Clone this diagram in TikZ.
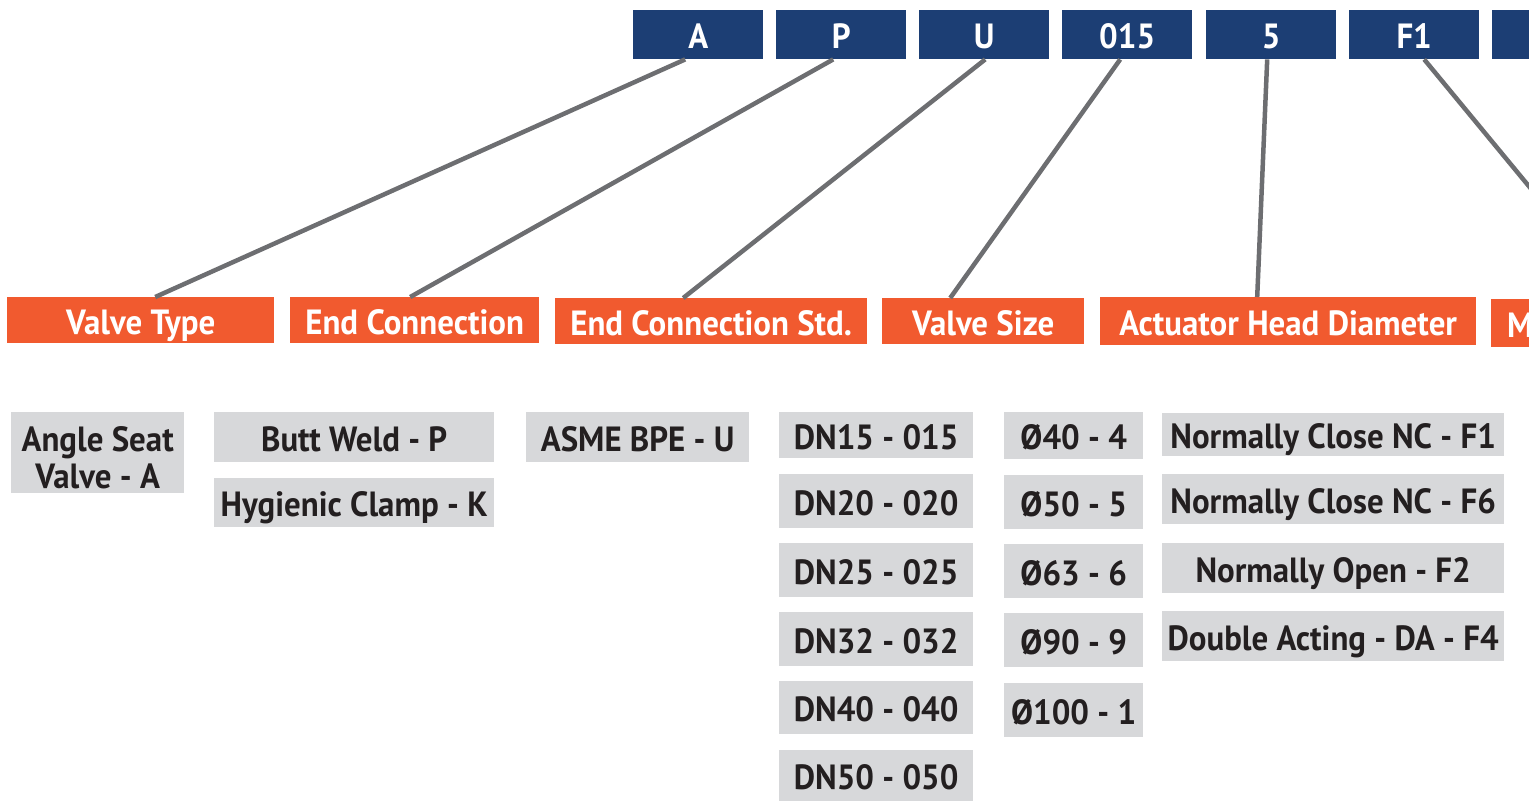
\documentclass[tikz,border=0pt]{standalone}
\usepackage{fontspec}
\setmainfont{PT Sans}[FakeStretch=0.94]
\definecolor{navy}{HTML}{1C3E74}
\definecolor{orng}{HTML}{F15A2F}
\definecolor{lgray}{HTML}{D7D8DA}
\definecolor{lineg}{HTML}{6D6E71}
\definecolor{txt}{HTML}{231F20}
\tikzset{
  labelfont/.style={font=\fontsize{35}{37}\selectfont\bfseries},
  base/.style={anchor=north west, inner sep=0pt, labelfont, align=center, text height=28pt, text depth=0pt},
  codebox/.style={base, fill=navy, text=white, minimum height=49pt, minimum width=130pt},
  catbox/.style={base, fill=orng, text=white},
  optbox/.style={base, fill=lgray, text=txt},
  conn/.style={draw=lineg, line width=4.5pt},
}
\begin{document}
\begin{tikzpicture}[x=1pt, y=-1pt]
\useasboundingbox (0,0) rectangle (1529,801);
\clip (0,0) rectangle (1529,801);
% code boxes
\node[codebox] (bA) at (633,10) {A};
\node[codebox] (bP) at (776,10) {P};
\node[codebox] (bU) at (919,10) {U};
\node[codebox] (b015) at (1062,10) {015};
\node[codebox] (b5) at (1206,10) {5};
\node[codebox] (bF1) at (1349,10) {F1};
\node[codebox] (bX) at (1492,10) {};
% category boxes
\node[catbox, minimum width=267pt, minimum height=46pt] (oVT) at (7,297) {Valve Type};
\node[catbox, minimum width=249pt, minimum height=46pt] (oEC) at (290,297) {End Connection};
\node[catbox, minimum width=312pt, minimum height=46pt] (oECS) at (555,298) {End Connection Std.};
\node[catbox, minimum width=202pt, minimum height=46pt] (oVS) at (882,298) {Valve Size};
\node[catbox, minimum width=376pt, minimum height=48pt] (oAH) at (1100,297) {Actuator Head Diameter};
\node[catbox, minimum width=200pt, minimum height=48pt, text width=200pt, align=left] (oM) at (1491,299) {\hspace*{16pt}M};
\coordinate (cM) at (1622,299);
% connectors
\draw[conn] ([xshift=-13pt]bA.south) -- ([xshift=14.5pt]oVT.north);
\draw[conn] ([xshift=-8pt]bP.south) -- ([xshift=-4.5pt]oEC.north);
\draw[conn] ([xshift=1pt]bU.south) -- ([xshift=-28pt]oECS.north);
\draw[conn] ([xshift=-7pt]b015.south) -- ([xshift=-33pt]oVS.north);
\draw[conn] ([xshift=-4pt]b5.south) -- ([xshift=-31pt]oAH.north);
\draw[conn] ([xshift=10pt]bF1.south) -- (cM);
% option boxes
\node[optbox, minimum width=173pt, minimum height=81pt] (gA) at (11,412) {};
\node[anchor=base, inner sep=0pt, labelfont, text=txt, align=center] (gAt) at ([yshift=-35.5pt]gA.center) {Angle Seat\\Valve - A};
\node[optbox, minimum width=280pt, minimum height=50pt] (gP) at (214,412) {Butt Weld - P};
\node[optbox, minimum width=280pt, minimum height=49pt] (gK) at (214,478) {Hygienic Clamp - K};
\node[optbox, minimum width=223pt, minimum height=50pt] (gU) at (526,412) {ASME BPE - U};
\node[optbox, minimum width=194pt, minimum height=46pt] (d15) at (779,412) {DN15 - 015};
\node[optbox, minimum width=194pt, minimum height=54pt] (d20) at (779,474) {DN20 - 020};
\node[optbox, minimum width=194pt, minimum height=54pt] (d25) at (779,543) {DN25 - 025};
\node[optbox, minimum width=194pt, minimum height=54pt] (d32) at (779,612) {DN32 - 032};
\node[optbox, minimum width=194pt, minimum height=53pt] (d40) at (779,681) {DN40 - 040};
\node[optbox, minimum width=194pt, minimum height=51pt] (d50) at (779,750) {DN50 - 050};
\node[optbox, minimum width=139pt, minimum height=47pt] (p40) at (1004,412) {Ø40 - 4};
\node[optbox, minimum width=139pt, minimum height=54pt] (p50) at (1004,475) {Ø50 - 5};
\node[optbox, minimum width=139pt, minimum height=54pt] (p63) at (1004,544) {Ø63 - 6};
\node[optbox, minimum width=139pt, minimum height=54pt] (p90) at (1004,613) {Ø90 - 9};
\node[optbox, minimum width=139pt, minimum height=54pt] (p100) at (1004,683) {Ø100 - 1};
\node[optbox, minimum width=342pt, minimum height=43pt] (fF1) at (1162,413) {Normally Close NC - F1};
\node[optbox, minimum width=342pt, minimum height=50pt] (fF6) at (1162,474) {Normally Close NC - F6};
\node[optbox, minimum width=342pt, minimum height=50pt] (fF2) at (1162,543) {Normally Open - F2};
\node[optbox, minimum width=342pt, minimum height=50pt] (fF4) at (1162,611) {Double Acting - DA - F4};
\end{tikzpicture}
\end{document}
